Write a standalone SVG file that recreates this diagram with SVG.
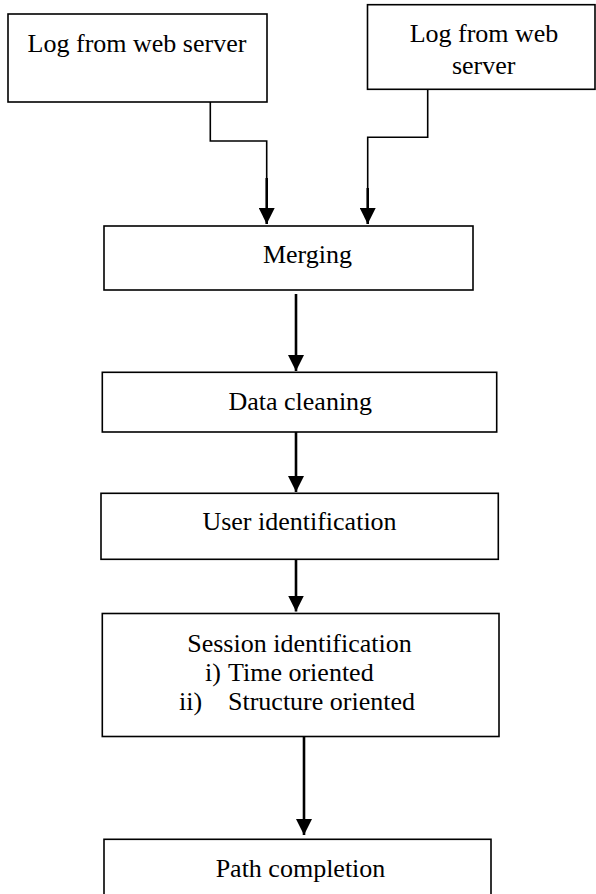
<svg xmlns="http://www.w3.org/2000/svg" width="596" height="894" viewBox="0 0 596 894">
<style>
.box{fill:#fff;stroke:#000;stroke-width:1.6}
.t{font-family:'Liberation Serif','DejaVu Serif',serif;font-size:26px;fill:#000}
.m{text-anchor:middle}
.thin{fill:none;stroke:#000;stroke-width:1.6}
.thick{fill:none;stroke:#000;stroke-width:2.6}
</style>
<defs>
<marker id="ah" viewBox="0 0 16 16" refX="16" refY="8" markerWidth="16" markerHeight="16" markerUnits="userSpaceOnUse" orient="auto">
<path d="M0,0 L16,8 L0,16 z" fill="#000"/>
</marker>
</defs>
<rect width="596" height="894" fill="#fff"/>
<g id="connectors">
<path class="thin" d="M210.3,102 V141 H266.7 V178"/>
<path class="thick" d="M266.7,178 V224" marker-end="url(#ah)"/>
<path class="thin" d="M427.7,89.3 V137.3 H367.7 V188"/>
<path class="thick" d="M367.7,188 V224" marker-end="url(#ah)"/>
<path class="thick" d="M296,294 V371" marker-end="url(#ah)"/>
<path class="thick" d="M296,432 V492" marker-end="url(#ah)"/>
<path class="thick" d="M296,559.5 V611.5" marker-end="url(#ah)"/>
<path class="thick" d="M304,737 V835" marker-end="url(#ah)"/>
</g>
<g id="log1">
<rect class="box" x="8" y="14" width="259" height="88"/>
<text class="t m" x="137" y="52">Log from web server</text>
</g>
<g id="log2">
<rect class="box" x="367.5" y="4.7" width="227.5" height="84.6"/>
<text class="t m" x="484" y="42">Log from web</text>
<text class="t m" x="483.7" y="74">server</text>
</g>
<g id="merging">
<rect class="box" x="104" y="226" width="369" height="64"/>
<text class="t m" x="307.5" y="263">Merging</text>
</g>
<g id="cleaning">
<rect class="box" x="102.3" y="372.3" width="394.4" height="59.7"/>
<text class="t m" x="300.3" y="410">Data cleaning</text>
</g>
<g id="user">
<rect class="box" x="101" y="493.3" width="397.3" height="66"/>
<text class="t m" x="299.5" y="530">User identification</text>
</g>
<g id="session">
<rect class="box" x="102.3" y="613.5" width="396.7" height="123"/>
<text class="t m" x="299.5" y="652">Session identification</text>
<text class="t" x="205" y="681">i)</text>
<text class="t" x="228" y="681">Time oriented</text>
<text class="t" x="179" y="710">ii)</text>
<text class="t" x="228" y="710">Structure oriented</text>
</g>
<g id="path">
<rect class="box" x="104" y="839.3" width="387" height="62"/>
<text class="t m" x="300.5" y="877">Path completion</text>
</g>
</svg>
